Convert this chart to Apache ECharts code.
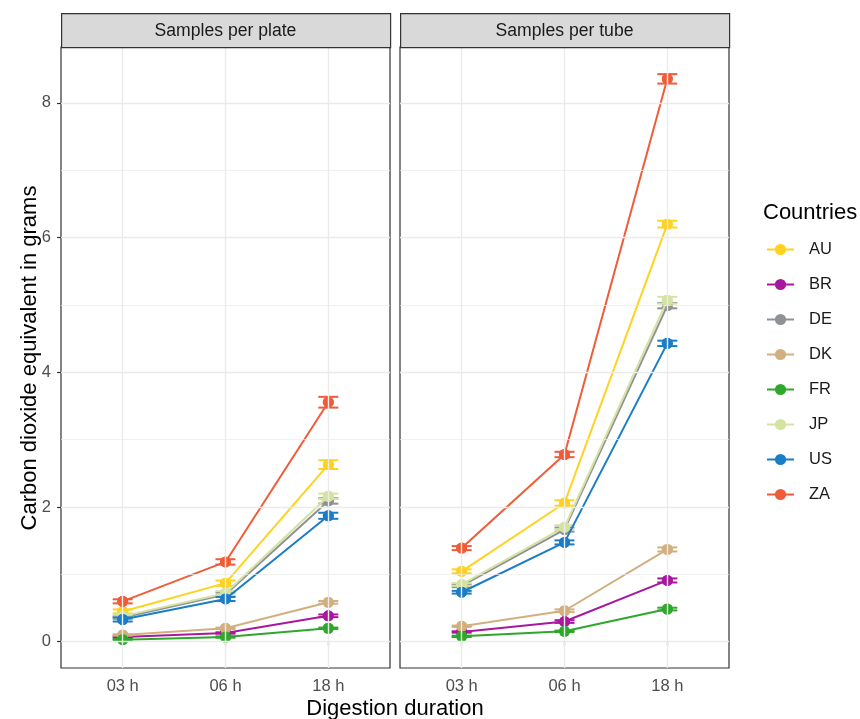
<!DOCTYPE html>
<html>
<head>
<meta charset="utf-8">
<script src="https://cdn.jsdelivr.net/npm/echarts@6/dist/echarts.min.js"></script>
<style>html,body{margin:0;padding:0;background:#fff}#chart{width:860px;height:719px}</style>
</head>
<body>
<div id="chart"></div>
<script>
const categories = ['03 h', '06 h', '18 h'];
const panels = ['Samples per plate', 'Samples per tube'];
const countries = ['AU', 'BR', 'DE', 'DK', 'FR', 'JP', 'US', 'ZA'];
const colors = ['#FFD21F', '#A8189E', '#8E9196', '#D2AF7F', '#2EA82A', '#D5E3A2', '#1A7DC6', '#F05C37'];
const yTicks = [0, 2, 4, 6, 8];
const yMinor = [1, 3, 5, 7];

// means per country at 03 h, 06 h, 18 h
const plateAU = [0.45, 0.87, 2.63];
const plateBR = [0.07, 0.13, 0.385];
const plateDE = [0.36, 0.70, 2.09];
const plateDK = [0.10, 0.20, 0.585];
const plateFR = [0.03, 0.07, 0.20];
const plateJP = [0.38, 0.72, 2.16];
const plateUS = [0.33, 0.635, 1.87];
const plateZA = [0.60, 1.185, 3.556];

const tubeAU = [1.045, 2.06, 6.20];
const tubeBR = [0.145, 0.30, 0.91];
const tubeDE = [0.83, 1.665, 4.99];
const tubeDK = [0.23, 0.46, 1.37];
const tubeFR = [0.08, 0.155, 0.485];
const tubeJP = [0.85, 1.70, 5.07];
const tubeUS = [0.735, 1.475, 4.43];
const tubeZA = [1.39, 2.78, 8.357];

// half-widths of error bars
const plateErrAU = [0.03, 0.04, 0.065];
const plateErrBR = [0.01, 0.01, 0.02];
const plateErrDE = [0.02, 0.03, 0.04];
const plateErrDK = [0.01, 0.01, 0.02];
const plateErrFR = [0.01, 0.01, 0.01];
const plateErrJP = [0.02, 0.03, 0.04];
const plateErrUS = [0.03, 0.03, 0.045];
const plateErrZA = [0.03, 0.04, 0.08];

const tubeErrAU = [0.03, 0.04, 0.05];
const tubeErrBR = [0.01, 0.02, 0.03];
const tubeErrDE = [0.02, 0.03, 0.04];
const tubeErrDK = [0.01, 0.02, 0.03];
const tubeErrFR = [0.01, 0.01, 0.02];
const tubeErrJP = [0.02, 0.03, 0.05];
const tubeErrUS = [0.02, 0.03, 0.04];
const tubeErrZA = [0.03, 0.04, 0.07];

const plateMeans = [plateAU, plateBR, plateDE, plateDK, plateFR, plateJP, plateUS, plateZA];
const tubeMeans = [tubeAU, tubeBR, tubeDE, tubeDK, tubeFR, tubeJP, tubeUS, tubeZA];
const plateErrs = [plateErrAU, plateErrBR, plateErrDE, plateErrDK, plateErrFR, plateErrJP, plateErrUS, plateErrZA];
const tubeErrs = [tubeErrAU, tubeErrBR, tubeErrDE, tubeErrDK, tubeErrFR, tubeErrJP, tubeErrUS, tubeErrZA];

const FONT = '"Liberation Sans", Arial, sans-serif';
const NARROW = '"Liberation Sans Narrow", "Arial Narrow", "Liberation Sans", sans-serif';
const gridDefs = [
  { left: 61, top: 47, width: 329, height: 621 },
  { left: 400, top: 47, width: 329, height: 621 }
];
const catPos = categories.map((c, i) => i + 1);

const chart = echarts.init(document.getElementById('chart'), null, { renderer: 'canvas' });

const grids = gridDefs.map(g => Object.assign({ show: true, borderColor: '#333333', borderWidth: 1.2, backgroundColor: 'transparent', z: 0 }, g));

const xAxes = gridDefs.map((g, k) => ({
  type: 'value', gridIndex: k, min: 0.4, max: 3.6,
  axisLine: { show: false },
  splitLine: { show: false },
  axisTick: { show: true, customValues: catPos, length: 4, lineStyle: { color: '#333333', width: 1.2 } },
  axisLabel: { customValues: catPos, formatter: v => categories[Math.round(v) - 1], color: '#4D4D4D', fontSize: 16.5, fontFamily: NARROW, margin: 10 }
}));

const yAxes = gridDefs.map((g, k) => ({
  type: 'value', gridIndex: k, min: -0.39, max: 8.83,
  axisLine: { show: false },
  splitLine: { show: false },
  axisTick: { show: k === 0, customValues: yTicks, length: 4, lineStyle: { color: '#333333', width: 1.2 } },
  axisLabel: { show: k === 0, customValues: yTicks, color: '#4D4D4D', fontSize: 16.5, fontFamily: NARROW, margin: 10 }
}));

const series = [];
// gridlines
gridDefs.forEach((g, k) => {
  const lines = [];
  yMinor.forEach(v => lines.push({ yAxis: v, lineStyle: { color: '#EBEBEB', width: 0.7, type: 'solid' } }));
  yTicks.forEach(v => lines.push({ yAxis: v, lineStyle: { color: '#EBEBEB', width: 1.4, type: 'solid' } }));
  catPos.forEach(v => lines.push({ xAxis: v, lineStyle: { color: '#EBEBEB', width: 1.4, type: 'solid' } }));
  series.push({
    type: 'line', name: '_grid' + k, xAxisIndex: k, yAxisIndex: k, data: [], z: 1, silent: true,
    markLine: { silent: true, symbol: 'none', animation: false, label: { show: false }, data: lines }
  });
});

[plateMeans, tubeMeans].forEach((means, k) => {
  countries.forEach((c, i) => {
    series.push({
      type: 'line', name: c, xAxisIndex: k, yAxisIndex: k,
      data: means[i].map((v, j) => [catPos[j], v]),
      symbol: 'circle', symbolSize: 11, showSymbol: true,
      lineStyle: { color: colors[i], width: 2 },
      itemStyle: { color: colors[i], borderWidth: 0 },
      z: 3 + i * 0.03, animation: false
    });
  });
});

[[plateMeans, plateErrs], [tubeMeans, tubeErrs]].forEach((pair, k) => {
  const means = pair[0], errs = pair[1];
  countries.forEach((c, i) => {
    series.push({
      type: 'scatter', name: c + '_pt', xAxisIndex: k, yAxisIndex: k,
      data: means[i].map((v, j) => [catPos[j], v]),
      symbol: 'circle', symbolSize: 11,
      itemStyle: { color: colors[i], opacity: 1, borderWidth: 0 },
      z: 3 + i * 0.03 + 0.01, animation: false, silent: true
    });
    series.push({
      type: 'custom', name: c + '_err', xAxisIndex: k, yAxisIndex: k,
      data: means[i].map((v, j) => [catPos[j], v - errs[i][j], v + errs[i][j]]),
      encode: { x: 0, y: [1, 2] },
      z: 3 + i * 0.03 + 0.02, animation: false, silent: true,
      renderItem: function (params, api) {
        const x = api.value(0);
        const lo = api.coord([x, api.value(1)]);
        const hi = api.coord([x, api.value(2)]);
        const hw = 10;
        const st = { stroke: colors[i], lineWidth: 2, fill: null };
        return {
          type: 'group', children: [
            { type: 'line', shape: { x1: lo[0], y1: lo[1], x2: hi[0], y2: hi[1] }, style: st },
            { type: 'line', shape: { x1: lo[0] - hw, y1: lo[1], x2: lo[0] + hw, y2: lo[1] }, style: st },
            { type: 'line', shape: { x1: hi[0] - hw, y1: hi[1], x2: hi[0] + hw, y2: hi[1] }, style: st }
          ]
        };
      }
    });
  });
});

const graphics = [];
gridDefs.forEach((g, k) => {
  graphics.push({
    type: 'rect', left: g.left, top: 13, shape: { width: g.width, height: 34 },
    style: { fill: '#D9D9D9', stroke: '#333333', lineWidth: 1.2 }, z: 10
  });
  graphics.push({
    type: 'text', x: g.left + g.width / 2, y: 31,
    style: { text: panels[k], fill: '#1A1A1A', fontSize: 17.6, fontFamily: FONT, align: 'center', verticalAlign: 'middle' }, z: 11
  });
});
graphics.push({
  type: 'text', x: 395, y: 709,
  style: { text: 'Digestion duration', fill: '#000000', fontSize: 22, fontFamily: FONT, align: 'center', verticalAlign: 'middle' }
});
graphics.push({
  type: 'text', x: 30, y: 358, rotation: Math.PI / 2,
  style: { text: 'Carbon dioxide equivalent in grams', fill: '#000000', fontSize: 22, fontFamily: FONT, align: 'center', verticalAlign: 'middle' }
});
graphics.push({
  type: 'text', x: 763, y: 213,
  style: { text: 'Countries', fill: '#000000', fontSize: 22, fontFamily: FONT, align: 'left', verticalAlign: 'middle' }
});

chart.setOption({
  animation: false,
  backgroundColor: '#ffffff',
  grid: grids,
  xAxis: xAxes,
  yAxis: yAxes,
  legend: {
    data: countries, orient: 'vertical', left: 766, top: 241, padding: 0,
    itemWidth: 27, itemHeight: 14, itemGap: 18,
    textStyle: { fontSize: 16.5, color: '#1A1A1A', fontFamily: FONT, padding: [0, 0, 0, 10] },
    selectedMode: false
  },
  graphic: graphics,
  series: series
});
</script>
</body>
</html>
